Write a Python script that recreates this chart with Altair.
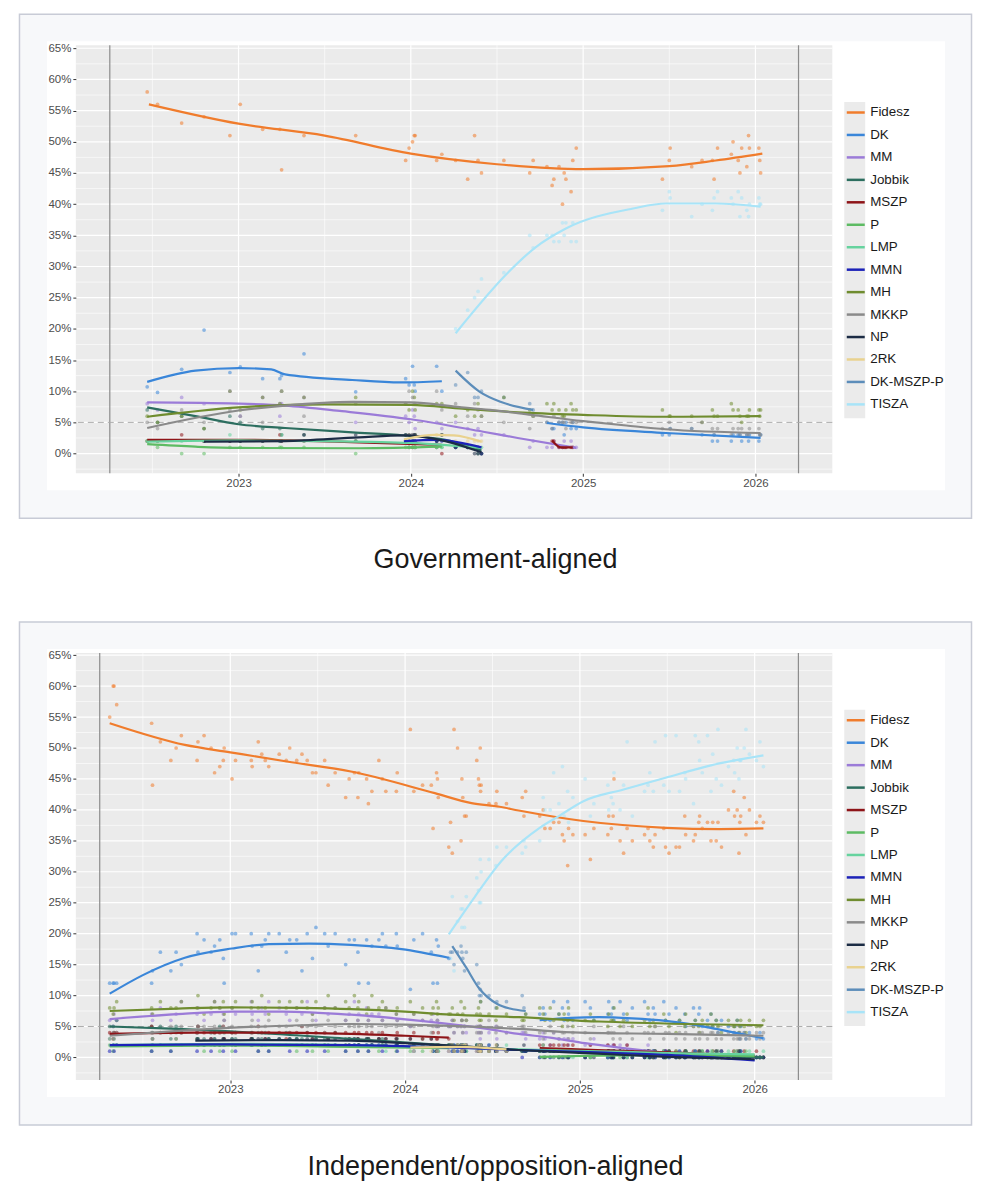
import altair as alt
import pandas as pd

PARTIES = ["Fidesz", "DK", "MM", "Jobbik", "MSZP", "P", "LMP", "MMN",
           "MH", "MKKP", "NP", "2RK", "DK-MSZP-P", "TISZA"]
COLORS = ["#f07c2c", "#3a86d9", "#9b7bd8", "#2c6e5f", "#8e1418", "#5dbb63",
          "#66d39e", "#1c22b8", "#6f8c2f", "#8a8a8a", "#1c2c45", "#e9d28f",
          "#5c8dba", "#a8e4f8"]

ELECTIONS = [2022.253, 2026.25]
THRESHOLD = [5]
X_MAJOR = [2023, 2024, 2025, 2026]
X_MINOR = [2022.5, 2023.5, 2024.5, 2025.5]
Y_MAJOR = [0, 5, 10, 15, 20, 25, 30, 35, 40, 45, 50, 55, 60, 65]
Y_MINOR = [-2.5, 2.5, 7.5, 12.5, 17.5, 22.5, 27.5, 32.5, 37.5, 42.5, 47.5, 52.5, 57.5, 62.5]

# ---------------- Government-aligned pollsters ----------------
G_DATES_S1 = [2022.47, 2022.53, 2022.67, 2022.80, 2022.95, 2023.01, 2023.14, 2023.24, 2023.25,
              2023.38, 2023.68, 2023.97, 2023.99, 2024.01, 2024.02, 2024.025, 2024.15, 2024.18]
G_DATES_S2 = [2024.26, 2024.33, 2024.37, 2024.39, 2024.41, 2024.54]
G_DATES_S3 = [2024.69, 2024.71, 2024.79, 2024.82, 2024.83, 2024.86, 2024.88, 2024.89, 2024.90,
              2024.93, 2024.94, 2024.96]
G_DATES_S4 = [2025.46, 2025.50, 2025.505, 2025.63, 2025.69, 2025.75, 2025.76, 2025.78, 2025.86,
              2025.87, 2025.90, 2025.91, 2025.92, 2025.95, 2025.96, 2025.965, 2026.02, 2026.025, 2026.03]

G_FIDESZ_S1 = [58, 56, 53, 54, 51, 56, 52, 52, 45.5, 51, 51, 47, 49, 50, 51, 51, 47, 48]
G_FIDESZ_S2 = [47, 44, 51, 47, 45, 47]
G_FIDESZ_S3 = [45, 47, 46, 43, 44, 46, 40, 45, 44, 42, 47, 49]
G_FIDESZ_S4 = [44, 47, 49, 46, 47, 47, 44, 49, 48, 50, 47, 45, 49, 46, 51, 49, 49, 47, 45]
G_TISZA_S2 = [20, 23, 25, 26, 28, 29]
G_TISZA_S3 = [35, 33, 35, 35, 34, 34, 37, 35, 37, 34, 37, 34]
G_TISZA_S4 = [39, 42, 41, 38, 40, 39, 41, 42, 41, 40, 42, 38, 41, 39, 38, 40, 41, 40, 40]
G_DK_S1 = [10.7, 9.8, 13.5, 19.8, 13, 13.9, 12, 12, 12.5, 16, 9.9, 12, 11, 14, 11, 10, 14, 10]
G_DK_S3 = [5, 4, 4, 5, 5, 3, 5, 4, 5, 4]
G_DK_S4 = [3, 3, 4, 4, 3, 2, 3, 2, 2, 3, 3, 3, 2, 3, 2, 3, 2, 3, 3]
G_DKMSZPP_S2 = [11, 13, 9, 9, 10, 9]
G_DKMSZPP_S3 = [8, 7]
G_MM_S1 = [8, 7, 9, 8, 10, 6, 9, 6, 8, 9, 5, 6, 5, 7, 6, 4, 5, 4]
G_MM_S2 = [5, 4, 3, 4, 3, 3]
G_MM_S3 = [1, 2, 1, 1, 2, 1, 1, 2, 1, 2, 1, 1]
G_JOBBIK_S1 = [7, 5, 6, 4, 6, 5, 4, 4, 3, 3, 2, 3, 2, 3, 2, 3, 2, 3]
G_JOBBIK_S2 = [1, 1, 1, 0, 0]
G_MSZP_S1 = [2, 2, 3, 2, 2, 2, 2, 3, 2, 2, 2, 2, 1, 1, 2, 1, 1, 0]
G_MSZP_S3 = [2, 2, 1, 1, 1, 1, 1, 1]
G_P_S1 = [2, 1, 0, 0, 1, 1, 1, 1, 1, 1, 0, 1, 1, 1, 1, 1, 1, 1]
G_LMP_S1 = [2, 2, 2, 2, 3, 2, 2, 2, 3, 2, 2, 2, 1, 2, 2, 1, 1, 1]
G_LMP_S2 = [1, 1, 1, 1, 1]
G_MMN_S1 = [2, 2, 3, 2, 2, 2, 2]
G_MMN_S2 = [1, 1, 1, 1, 0]
G_2RK_S1 = [2, 3, 3, 2, 3, 3, 3]
G_2RK_S2 = [2, 2, 2, 2, 2]
G_NP_S1 = [2, 2, 2, 2, 2, 2, 3, 3, 3, 3, 2, 3, 3, 2, 3]
G_NP_S2 = [1, 1, 0, 0, 0]
G_MH_S1 = [6, 5, 6, 4, 10, 7, 9, 8, 10, 9, 9, 8, 7, 10, 9, 7, 8, 8]
G_MH_S2 = [6, 7, 6, 8, 6, 9]
G_MH_S3 = [7, 6, 8, 7, 8, 7, 6, 6, 7, 8, 7, 7]
G_MH_S4 = [7, 6, 6, 6, 5, 7, 6, 6, 8, 7, 7, 6, 5, 6, 6, 7, 7, 6, 7]
G_MKKP_S1 = [5, 4, 7, 5, 7, 6, 5, 8, 10, 6, 8, 8, 10, 9, 8, 8, 10, 7]
G_MKKP_S2 = [8, 6, 8, 7, 6, 5]
G_MKKP_S3 = [4, 6, 5, 4, 6, 5, 5, 5, 4, 5, 5, 5]
G_MKKP_S4 = [4, 5, 4, 4, 5, 4, 3, 4, 3, 4, 4, 3, 4, 3, 3, 4, 4, 3, 3]

# smoothed trends (government-aligned)
GL_FIDESZ = [(2022.48, 56.0), (2023.0, 52.9), (2023.5, 51.0), (2024.0, 48.1), (2024.5, 46.4),
             (2025.0, 45.6), (2025.5, 46.1), (2025.77, 47.0), (2026.04, 48.1)]
GL_TISZA = [(2024.26, 19.3), (2024.57, 29.2), (2024.72, 33.0), (2024.9, 36.1), (2025.29, 39.3),
            (2025.48, 40.1), (2025.77, 40.1), (2026.03, 39.6)]
GL_DK1 = [(2022.47, 11.5), (2022.75, 13.3), (2023.0, 13.7), (2023.19, 13.5), (2023.27, 12.7),
          (2023.66, 11.8), (2023.94, 11.4), (2024.18, 11.6)]
GL_DK2 = [(2024.79, 4.9), (2025.0, 4.2), (2025.48, 3.3), (2026.03, 2.5)]
GL_DKMSZPP = [(2024.26, 13.3), (2024.40, 9.9), (2024.52, 8.3), (2024.71, 7.0)]
GL_MM = [(2022.47, 8.2), (2023.0, 8.0), (2023.27, 7.7), (2023.6, 6.8), (2024.0, 5.5),
         (2024.42, 3.5), (2024.62, 2.5), (2024.96, 0.9)]
GL_JOBBIK = [(2022.47, 7.4), (2022.75, 6.0), (2023.0, 4.7), (2023.27, 4.1), (2023.66, 3.4),
             (2023.96, 2.9), (2024.2, 2.2), (2024.41, 0.5)]
GL_MSZP1 = [(2022.47, 2.2), (2023.0, 2.2), (2023.3, 2.1), (2023.7, 1.8), (2024.18, 1.4)]
GL_MSZP2 = [(2024.82, 2.1), (2024.87, 1.0), (2024.94, 1.0)]
GL_P = [(2022.47, 1.5), (2022.75, 1.1), (2023.0, 0.9), (2023.7, 0.85), (2024.18, 1.1)]
GL_LMP = [(2022.47, 1.9), (2023.0, 2.1), (2023.5, 2.0), (2024.0, 1.7), (2024.41, 0.9)]
GL_MMN = [(2023.96, 2.0), (2024.15, 2.2), (2024.41, 1.0)]
GL_MH = [(2022.47, 5.9), (2023.0, 7.4), (2023.5, 7.9), (2024.0, 7.8), (2024.3, 7.2),
         (2024.62, 6.6), (2025.0, 6.2), (2025.48, 5.9), (2026.03, 6.0)]
GL_MKKP = [(2022.47, 4.1), (2023.0, 6.9), (2023.27, 7.7), (2023.66, 8.3), (2024.0, 8.2),
           (2024.27, 7.5), (2024.46, 7.0), (2024.7, 6.2), (2025.0, 5.2), (2025.25, 4.5),
           (2025.48, 3.9), (2026.03, 3.3)]
GL_NP = [(2022.80, 1.9), (2023.27, 2.0), (2023.7, 2.6), (2023.96, 2.9), (2024.2, 2.0), (2024.41, 0.2)]
GL_2RK = [(2023.96, 2.3), (2024.14, 3.0), (2024.25, 2.9), (2024.41, 1.9)]

# ---------------- Independent / opposition-aligned pollsters ----------------
I_DATES_A = [2022.31, 2022.33, 2022.335, 2022.35, 2022.55, 2022.555, 2022.60, 2022.66, 2022.69, 2022.72,
             2022.81, 2022.815, 2022.85, 2022.89, 2022.91, 2022.94, 2022.96, 2022.965, 2023.01, 2023.03,
             2023.12, 2023.125, 2023.16, 2023.18, 2023.20, 2023.22, 2023.28, 2023.32, 2023.34, 2023.38,
             2023.41, 2023.44, 2023.47, 2023.49, 2023.54, 2023.56, 2023.60, 2023.66, 2023.68, 2023.71,
             2023.73, 2023.735, 2023.78, 2023.79, 2023.81, 2023.85, 2023.87, 2023.89, 2023.95, 2023.955,
             2024.03, 2024.05, 2024.10, 2024.15, 2024.16, 2024.18, 2024.185, 2024.19, 2024.25]
I_DATES_B = [2024.26, 2024.27, 2024.28, 2024.30, 2024.32, 2024.325, 2024.33, 2024.34, 2024.35, 2024.41,
             2024.42, 2024.425, 2024.43, 2024.432, 2024.435, 2024.48, 2024.52, 2024.525, 2024.58, 2024.67,
             2024.69, 2024.68, 2024.77, 2024.79, 2024.80, 2024.83, 2024.85, 2024.88, 2024.90, 2024.91,
             2024.93, 2024.935, 2024.96, 2025.03, 2025.06, 2025.08, 2025.16, 2025.165, 2025.19, 2025.195,
             2025.18, 2025.23, 2025.25, 2025.27, 2025.30, 2025.37, 2025.39, 2025.40, 2025.42, 2025.43,
             2025.48, 2025.49, 2025.51, 2025.55, 2025.57, 2025.60, 2025.605, 2025.65, 2025.66, 2025.68,
             2025.685, 2025.70, 2025.73, 2025.75, 2025.76, 2025.78, 2025.79, 2025.81, 2025.85, 2025.88,
             2025.885, 2025.90, 2025.91, 2025.915, 2025.92, 2025.94, 2025.95, 2025.97, 2026.01, 2026.03,
             2026.05]

I_FIDESZ_A = [55, 60, 60, 57, 54, 44, 51, 48, 50, 52,
              48, 51, 52, 50, 46, 47, 48, 50, 45, 48,
              48, 47, 51, 49, 48, 47, 49, 48, 50, 48,
              49, 48, 46, 46, 48, 44, 46, 42, 45, 46,
              42, 46, 45, 41, 43, 48, 45, 43, 43, 46,
              53, 43, 44, 44, 37, 46, 45, 42, 34]
I_FIDESZ_B = [38, 33, 53, 50, 35, 45, 42, 39, 39, 48,
              45, 44, 50, 43, 44, 41, 41, 43, 41, 42,
              43, 39, 39, 40, 37, 37, 38, 38, 36, 35,
              31, 37, 36, 36, 32, 37, 36, 39, 39, 45,
              37, 35, 33, 37, 35, 36, 37, 35, 34, 36,
              37, 34, 33, 34, 34, 39, 36, 35, 36, 38,
              39, 37, 38, 35, 38, 35, 38, 34, 40, 43,
              39, 40, 33, 38, 39, 42, 36, 40, 38, 39,
              38]
I_TISZA_B = [16, 26, 14, 22, 24, 21, 24, 21, 26, 29,
             27, 25, 32, 25, 30, 32, 31, 34, 34, 33,
             34, 35, 35, 42, 40, 40, 46, 41, 47, 39,
             43, 38, 42, 45, 39, 41, 44, 40, 41, 46,
             42, 40, 44, 51, 39, 43, 44, 46, 43, 51,
             44, 52, 43, 52, 43, 46, 45, 41, 52, 51,
             48, 46, 52, 43, 49, 45, 53, 44, 47, 48,
             46, 50, 45, 48, 48, 50, 53, 49, 48, 51,
             47]
I_DK_A = [12, 12, 12, 12, 12, 14, 17, 14, 17, 15,
          20, 17, 19, 17, 18, 19, 16, 12, 20, 20,
          20, 18, 14, 18, 19, 20, 20, 17, 19, 19,
          14, 20, 16, 21, 20, 18, 20, 15, 19, 19,
          17, 12, 19, 12, 18, 19, 20, 18, 20, 18,
          11, 19, 20, 17, 12, 19, 12, 18, 16]
I_DK_B = [7, 8, 7, 6, 9, 7, 8, 6, 9, 7,
          6, 9, 8, 6, 7, 9, 8, 6, 7, 9,
          7, 6, 8, 9, 7, 6, 8, 7, 9, 6,
          7, 8, 6, 7, 5, 8, 6, 7, 8, 5,
          6, 7, 5, 6, 4, 6, 5, 4, 5, 6,
          4, 3, 5, 4, 3, 4, 3, 4, 3]
I_DKMSZPP_B = [17, 17, 15, 17, 18, 17, 16, 14, 17, 15,
               12, 10, 11, 9, 10, 10, 8, 9, 9, 10,
               7, 8]
I_MM_A = [6, 5, 7, 6, 7, 6, 8, 6, 7, 9,
          7, 8, 6, 7, 9, 8, 7, 6, 8, 7,
          9, 7, 6, 8, 7, 9, 8, 7, 6, 8,
          7, 9, 7, 6, 8, 7, 8, 6, 7, 9,
          6, 7, 8, 6, 7, 7, 6, 8, 7, 6,
          5, 7, 6, 6, 7, 5, 6, 5, 5]
I_MM_B = [5, 6, 4, 5, 5, 6, 4, 5, 4, 5,
          4, 5, 3, 5, 4, 4, 5, 3, 4, 4,
          3, 4, 3, 4, 3, 2, 4, 3, 2, 3,
          3, 2, 3, 2, 2, 3, 2, 1, 2, 2,
          1, 2, 1, 2, 1, 1, 2, 1, 1, 0,
          1, 1, 0]
I_JOBBIK_A = [5, 5, 4, 6, 5, 4, 5, 3, 5, 4,
              4, 5, 3, 4, 4, 5, 3, 4, 4, 3,
              4, 3, 4, 3, 4, 3, 3, 4, 3, 3,
              3, 4, 2, 3, 3, 3, 4, 3, 2, 3,
              3, 2, 3, 3, 2, 3, 3, 2, 2, 3,
              2, 2, 3, 2, 2, 1, 2, 2, 2]
I_JOBBIK_B = [2, 2, 1, 2, 2, 1, 2, 2, 1, 2,
              1, 2, 1, 1, 2, 1, 1, 2, 1, 1,
              1, 1, 1, 0, 1, 1, 0, 1, 1, 0,
              1, 0, 1, 1, 0, 1, 0, 1, 0, 1,
              0, 1, 0, 0, 1, 0, 1, 0, 0, 1,
              0, 0, 1, 0, 0, 0, 1, 0, 0, 0,
              0, 1, 0, 0, 0, 0, 1, 0, 0, 0,
              0, 0, 0, 1, 0, 0, 0, 0, 0, 0,
              0]
I_MSZP_A = [4, 3, 4, 4, 5, 3, 4, 4, 3, 4,
            4, 5, 4, 3, 4, 4, 5, 3, 4, 4,
            3, 4, 5, 4, 3, 4, 4, 3, 4, 4,
            5, 4, 3, 4, 4, 3, 4, 4, 3, 4,
            3, 4, 4, 3, 4, 3, 4, 3, 3, 4,
            3, 4, 3, 3, 4, 3, 3, 4, 3]
I_MSZP_B = [2, 2, 1, 2, 2, 2, 1, 2, 2, 1,
            2, 1, 2, 1, 2, 1, 1, 2, 1, 1,
            1, 2, 1, 1, 1, 1, 0, 1, 1, 1,
            1, 1, 0, 1, 1, 1, 0, 1, 1, 0,
            1, 0, 1, 1, 0, 1, 0, 1, 0, 1,
            0, 1, 0, 1, 0, 0, 1, 0, 0]
I_P_A = [2, 1, 2, 2, 1, 2, 2, 1, 2, 2,
         3, 2, 1, 2, 2, 1, 2, 2, 1, 2,
         2, 2, 1, 2, 2, 1, 2, 2, 2, 1,
         2, 2, 1, 2, 2, 1, 2, 1, 2, 2,
         1, 2, 2, 1, 2, 1, 2, 2, 1, 2,
         1, 2, 1, 2, 1, 2, 1, 1, 2]
I_P_B = [0, 1, 0, 0, 1, 0, 0, 1, 0, 0,
         1, 0, 0, 1, 0, 1, 0, 0, 1, 0,
         0, 1, 0, 1, 0, 0, 1, 0, 1, 0,
         0, 1, 0, 0, 1, 0, 1, 0, 0, 1,
         0, 0, 1, 0, 0, 1, 0, 0, 1, 0,
         0, 1, 0, 0, 1, 0, 0, 0, 0]
I_LMP_A = [3, 2, 3, 2, 2, 3, 2, 2, 3, 2,
           2, 3, 2, 2, 3, 2, 2, 2, 3, 2,
           2, 3, 2, 2, 2, 3, 2, 2, 2, 3,
           2, 2, 2, 3, 2, 2, 2, 2, 3, 2,
           2, 2, 2, 3, 2, 2, 2, 1, 2, 2,
           2, 1, 2, 2, 1, 2, 2, 1, 2]
I_LMP_B = [2, 1, 2, 1, 2, 2, 1, 2, 1, 2,
           1, 1, 2, 1, 1, 2, 1, 1, 2, 1,
           1, 1, 1, 2, 1, 1, 1, 0, 1, 1,
           1, 1, 0, 1, 1, 1, 0, 1, 1, 1,
           0, 1, 1, 0, 1, 1, 0, 1, 0, 1,
           1, 0, 1, 0, 1, 0, 1, 0, 1, 0,
           1, 0, 0, 1, 0, 1, 0, 0, 1, 0,
           0, 1, 0, 0, 1, 0, 0, 1, 0, 0,
           1]
I_MMN_A = [1, 2, 1, 2, 1, 2, 2, 1, 2, 2,
           1, 2, 2, 1, 2, 2, 1, 2, 2, 1,
           2, 2, 1, 2, 2, 1, 2, 2, 1, 2,
           2, 1, 2, 2, 1, 2, 2, 1, 2, 2,
           1, 2, 2, 1, 2, 2, 1, 2, 2, 1,
           2, 1, 2, 2, 1, 2, 1, 2, 1]
I_MMN_B = [2, 1, 2, 1, 1, 2, 1, 1, 2, 1,
           1, 2, 1, 1, 1, 2, 1, 1, 1, 0,
           1, 1, 0, 1, 1, 0, 1, 1, 0, 1,
           1, 0, 1, 0, 1, 1, 0, 1, 0, 1,
           0, 1, 0, 1, 0, 0, 1, 0, 1, 0,
           0, 1, 0, 0, 1, 0, 0, 0, 1, 0,
           0, 0, 1, 0, 0, 0, 0, 1, 0, 0,
           0, 0, 0, 0, 1, 0, 0, 0, 0, 0,
           0]
I_MH_A = [8, 7, 8, 9, 8, 7, 9, 8, 8, 9,
          8, 10, 7, 8, 9, 8, 9, 7, 8, 9,
          8, 9, 8, 10, 8, 7, 9, 8, 9, 8,
          9, 8, 7, 9, 8, 10, 8, 9, 8, 10,
          8, 9, 7, 8, 10, 8, 9, 8, 7, 8,
          9, 7, 8, 7, 8, 9, 7, 8, 7]
I_MH_B = [7, 8, 6, 7, 9, 6, 7, 8, 6, 7,
          8, 6, 7, 9, 6, 7, 6, 8, 7, 6,
          7, 6, 8, 7, 6, 8, 6, 7, 5, 7,
          6, 8, 5, 6, 7, 6, 5, 7, 6, 8,
          6, 5, 6, 7, 5, 6, 8, 5, 6, 5,
          7, 6, 5, 4, 6, 5, 7, 5, 6, 5,
          4, 6, 5, 7, 5, 6, 5, 4, 6, 5,
          5, 6, 4, 5, 6, 5, 4, 6, 5, 5,
          6]
I_MKKP_A = [3, 4, 3, 4, 4, 3, 4, 5, 4, 5,
            4, 5, 5, 4, 5, 4, 5, 6, 5, 4,
            5, 6, 5, 4, 5, 6, 5, 5, 4, 6,
            5, 5, 6, 5, 4, 6, 5, 6, 5, 5,
            6, 5, 5, 6, 5, 4, 6, 5, 5, 6,
            5, 5, 6, 4, 5, 5, 6, 5, 5]
I_MKKP_B = [5, 6, 4, 5, 5, 6, 4, 5, 6, 4,
            5, 4, 5, 5, 4, 6, 4, 5, 4, 5,
            4, 5, 4, 3, 4, 5, 4, 3, 4, 4,
            5, 3, 4, 4, 3, 5, 4, 4, 3, 4,
            4, 3, 5, 4, 3, 4, 4, 3, 4, 5,
            3, 4, 4, 3, 4, 3, 4, 5, 3, 4,
            3, 4, 3, 4, 4, 3, 4, 3, 4, 3,
            4, 3, 3, 4, 3, 4, 3, 3, 4, 3,
            4]
I_NP_A = [3, 3, 2, 3, 3, 2, 3, 3, 3, 2,
          3, 3, 3, 2, 3, 3, 3, 2, 3, 3,
          2, 3, 3, 3, 2, 3, 3, 2, 3, 3,
          3, 2, 3, 3, 2, 3, 2, 3, 3, 2,
          3, 2, 2, 3, 2, 1, 2, 2, 2]
I_NP_B = [2, 2, 1, 2, 2, 1, 2, 1, 2, 2,
          1, 2, 1, 1, 2, 1, 1, 2, 1, 1,
          1, 2, 1, 1, 0, 1, 1, 0, 1, 1,
          0, 1, 1, 0, 1, 0, 1, 1, 0, 1,
          0, 1, 0, 1, 0, 0, 1, 0, 0, 1,
          0, 0, 1, 0, 0, 0, 1, 0, 0, 0,
          1, 0, 0, 0, 0, 1, 0, 0, 0, 0,
          0, 0, 1, 0, 0, 0, 0, 0, 0, 0,
          0]
I_2RK = [2, 1, 2, 1, 2, 2, 1, 2, 1, 2,
         2, 1, 2, 1, 2, 1, 2, 2, 1, 2,
         1, 1, 2, 1, 1, 2, 1, 1]

# smoothed trends (independent / opposition-aligned)
IL_FIDESZ = [(2022.31, 54.0), (2022.74, 50.5), (2023.0, 49.3), (2023.35, 47.7), (2023.69, 46.2),
             (2024.17, 42.7), (2024.38, 41.1), (2024.54, 40.5), (2024.65, 39.9), (2025.02, 38.2),
             (2025.49, 37.1), (2025.8, 36.9), (2026.05, 37.0)]
IL_TISZA = [(2024.25, 19.9), (2024.4, 26.0), (2024.55, 31.7), (2024.77, 37.1), (2024.88, 39.0),
            (2025.02, 41.4), (2025.25, 43.3), (2025.49, 45.2), (2025.75, 47.2), (2026.05, 48.8)]
IL_DK1 = [(2022.31, 10.3), (2022.5, 13.3), (2022.74, 16.1), (2023.01, 17.6), (2023.22, 18.3),
          (2023.45, 18.4), (2023.69, 18.2), (2023.98, 17.5), (2024.25, 16.1)]
IL_DK2 = [(2024.77, 6.0), (2024.95, 6.4), (2025.11, 6.5), (2025.3, 6.3), (2025.49, 5.9),
          (2025.65, 5.3), (2025.78, 4.6), (2025.92, 3.8), (2026.05, 3.1)]
IL_DKMSZPP = [(2024.27, 18.0), (2024.35, 14.5), (2024.42, 11.3), (2024.53, 8.6), (2024.60, 7.9),
              (2024.69, 7.5)]
IL_MH = [(2022.31, 7.5), (2022.7, 7.9), (2023.01, 8.1), (2023.4, 8.0), (2023.69, 7.8), (2024.0, 7.4),
         (2024.26, 6.9), (2024.65, 6.5), (2025.11, 5.8), (2025.6, 5.4), (2026.05, 5.2)]
IL_MM = [(2022.31, 6.2), (2022.7, 7.0), (2023.01, 7.4), (2023.3, 7.4), (2023.69, 6.9), (2024.09, 5.9),
         (2024.47, 4.6), (2024.65, 3.8), (2024.83, 3.2), (2025.03, 2.3), (2025.25, 1.5), (2025.5, 0.7)]
IL_JOBBIK = [(2022.31, 5.0), (2022.7, 4.6), (2023.0, 4.2), (2023.69, 3.0), (2024.26, 1.9),
             (2024.65, 1.2), (2025.1, 0.8), (2025.5, 0.5), (2026.05, 0.0)]
IL_MKKP = [(2022.31, 3.5), (2022.7, 4.3), (2023.01, 4.8), (2023.4, 5.2), (2023.69, 5.4), (2024.0, 5.3),
           (2024.26, 5.1), (2024.65, 4.6), (2025.0, 4.0), (2025.5, 3.8), (2026.05, 3.5)]
IL_MSZP1 = [(2022.31, 3.8), (2022.8, 4.0), (2023.1, 4.0), (2023.69, 3.8), (2024.0, 3.5), (2024.25, 3.2)]
IL_MSZP2 = [(2024.77, 1.5), (2025.1, 1.2), (2025.5, 0.8), (2025.8, 0.5), (2026.0, 0.3)]
IL_NP = [(2022.80, 2.7), (2023.3, 2.8), (2023.69, 2.7), (2024.0, 2.3), (2024.26, 1.9), (2024.65, 1.2),
         (2025.1, 0.6), (2025.5, 0.1), (2026.0, -0.3)]
IL_MMN = [(2022.31, 2.0), (2023.0, 2.1), (2023.69, 2.0), (2024.26, 1.6), (2024.65, 1.2), (2025.1, 0.8),
          (2025.5, 0.4), (2026.0, -0.5)]
IL_P1 = [(2022.31, 1.8), (2023.0, 1.9), (2023.69, 1.7), (2024.25, 1.5)]
IL_P2 = [(2024.77, 0.1), (2025.1, 0.3), (2025.5, 0.4), (2026.0, 0.2)]
IL_LMP = [(2022.31, 2.0), (2023.0, 2.2), (2023.69, 2.0), (2024.26, 1.6), (2024.65, 1.3), (2025.1, 1.0),
          (2025.5, 0.7), (2026.0, 0.5)]
IL_2RK = [(2024.03, 1.6), (2024.3, 1.7), (2024.58, 1.3)]


def add_pts(rows, party, dates, values):
    for d, v in zip(dates, values):
        rows.append({"year": d, "value": v, "party": party})


def add_line(rows, party, seg, pairs):
    for d, v in pairs:
        rows.append({"year": d, "value": v, "party": party, "seg": party + seg})


# government points
gp = []
add_pts(gp, "Fidesz", G_DATES_S1, G_FIDESZ_S1)
add_pts(gp, "Fidesz", G_DATES_S2, G_FIDESZ_S2)
add_pts(gp, "Fidesz", G_DATES_S3, G_FIDESZ_S3)
add_pts(gp, "Fidesz", G_DATES_S4, G_FIDESZ_S4)
add_pts(gp, "TISZA", G_DATES_S2, G_TISZA_S2)
add_pts(gp, "TISZA", G_DATES_S3, G_TISZA_S3)
add_pts(gp, "TISZA", G_DATES_S4, G_TISZA_S4)
add_pts(gp, "DK", G_DATES_S1, G_DK_S1)
add_pts(gp, "DK", G_DATES_S3[2:], G_DK_S3)
add_pts(gp, "DK", G_DATES_S4, G_DK_S4)
add_pts(gp, "DK-MSZP-P", G_DATES_S2, G_DKMSZPP_S2)
add_pts(gp, "DK-MSZP-P", G_DATES_S3, G_DKMSZPP_S3)
add_pts(gp, "MM", G_DATES_S1, G_MM_S1)
add_pts(gp, "MM", G_DATES_S2, G_MM_S2)
add_pts(gp, "MM", G_DATES_S3, G_MM_S3)
add_pts(gp, "Jobbik", G_DATES_S1, G_JOBBIK_S1)
add_pts(gp, "Jobbik", G_DATES_S2, G_JOBBIK_S2)
add_pts(gp, "MSZP", G_DATES_S1, G_MSZP_S1)
add_pts(gp, "MSZP", G_DATES_S3[3:], G_MSZP_S3)
add_pts(gp, "P", G_DATES_S1, G_P_S1)
add_pts(gp, "LMP", G_DATES_S1, G_LMP_S1)
add_pts(gp, "LMP", G_DATES_S2, G_LMP_S2)
add_pts(gp, "MMN", G_DATES_S1[11:], G_MMN_S1)
add_pts(gp, "MMN", G_DATES_S2, G_MMN_S2)
add_pts(gp, "2RK", G_DATES_S1[11:], G_2RK_S1)
add_pts(gp, "2RK", G_DATES_S2, G_2RK_S2)
add_pts(gp, "NP", G_DATES_S1[3:], G_NP_S1)
add_pts(gp, "NP", G_DATES_S2, G_NP_S2)
add_pts(gp, "MH", G_DATES_S1, G_MH_S1)
add_pts(gp, "MH", G_DATES_S2, G_MH_S2)
add_pts(gp, "MH", G_DATES_S3, G_MH_S3)
add_pts(gp, "MH", G_DATES_S4, G_MH_S4)
add_pts(gp, "MKKP", G_DATES_S1, G_MKKP_S1)
add_pts(gp, "MKKP", G_DATES_S2, G_MKKP_S2)
add_pts(gp, "MKKP", G_DATES_S3, G_MKKP_S3)
add_pts(gp, "MKKP", G_DATES_S4, G_MKKP_S4)

gl = []
add_line(gl, "Fidesz", "1", GL_FIDESZ)
add_line(gl, "DK", "1", GL_DK1)
add_line(gl, "DK", "2", GL_DK2)
add_line(gl, "MM", "1", GL_MM)
add_line(gl, "Jobbik", "1", GL_JOBBIK)
add_line(gl, "MSZP", "1", GL_MSZP1)
add_line(gl, "MSZP", "2", GL_MSZP2)
add_line(gl, "P", "1", GL_P)
add_line(gl, "LMP", "1", GL_LMP)
add_line(gl, "MMN", "1", GL_MMN)
add_line(gl, "MH", "1", GL_MH)
add_line(gl, "MKKP", "1", GL_MKKP)
add_line(gl, "NP", "1", GL_NP)
add_line(gl, "2RK", "1", GL_2RK)
add_line(gl, "DK-MSZP-P", "1", GL_DKMSZPP)
add_line(gl, "TISZA", "1", GL_TISZA)

# independent points
ip = []
add_pts(ip, "Fidesz", I_DATES_A, I_FIDESZ_A)
add_pts(ip, "Fidesz", I_DATES_B, I_FIDESZ_B)
add_pts(ip, "TISZA", I_DATES_B, I_TISZA_B)
add_pts(ip, "DK", I_DATES_A, I_DK_A)
add_pts(ip, "DK", I_DATES_B[22:], I_DK_B)
add_pts(ip, "DK-MSZP-P", I_DATES_B, I_DKMSZPP_B)
add_pts(ip, "MM", I_DATES_A, I_MM_A)
add_pts(ip, "MM", I_DATES_B, I_MM_B)
add_pts(ip, "Jobbik", I_DATES_A, I_JOBBIK_A)
add_pts(ip, "Jobbik", I_DATES_B, I_JOBBIK_B)
add_pts(ip, "MSZP", I_DATES_A, I_MSZP_A)
add_pts(ip, "MSZP", I_DATES_B[22:], I_MSZP_B)
add_pts(ip, "P", I_DATES_A, I_P_A)
add_pts(ip, "P", I_DATES_B[22:], I_P_B)
add_pts(ip, "LMP", I_DATES_A, I_LMP_A)
add_pts(ip, "LMP", I_DATES_B, I_LMP_B)
add_pts(ip, "MMN", I_DATES_A, I_MMN_A)
add_pts(ip, "MMN", I_DATES_B, I_MMN_B)
add_pts(ip, "MH", I_DATES_A, I_MH_A)
add_pts(ip, "MH", I_DATES_B, I_MH_B)
add_pts(ip, "MKKP", I_DATES_A, I_MKKP_A)
add_pts(ip, "MKKP", I_DATES_B, I_MKKP_B)
add_pts(ip, "NP", I_DATES_A[10:], I_NP_A)
add_pts(ip, "NP", I_DATES_B, I_NP_B)
add_pts(ip, "2RK", I_DATES_A[50:] + I_DATES_B, I_2RK)

il = []
add_line(il, "Fidesz", "1", IL_FIDESZ)
add_line(il, "DK", "1", IL_DK1)
add_line(il, "DK", "2", IL_DK2)
add_line(il, "MM", "1", IL_MM)
add_line(il, "Jobbik", "1", IL_JOBBIK)
add_line(il, "MSZP", "1", IL_MSZP1)
add_line(il, "MSZP", "2", IL_MSZP2)
add_line(il, "P", "1", IL_P1)
add_line(il, "P", "2", IL_P2)
add_line(il, "LMP", "1", IL_LMP)
add_line(il, "MMN", "1", IL_MMN)
add_line(il, "MH", "1", IL_MH)
add_line(il, "MKKP", "1", IL_MKKP)
add_line(il, "NP", "1", IL_NP)
add_line(il, "2RK", "1", IL_2RK)
add_line(il, "DK-MSZP-P", "1", IL_DKMSZPP)
add_line(il, "TISZA", "1", IL_TISZA)

FONT = "Liberation Sans"
W = 758


def rect(x1, x2, y1, y2, fill, stroke=None, sw=0):
    kw = {"fill": fill}
    if stroke:
        kw["stroke"] = stroke
        kw["strokeWidth"] = sw
    return alt.Chart(alt.Data(values=[{}])).mark_rect(**kw).encode(
        x=alt.value(x1), x2=alt.value(x2), y=alt.value(y1), y2=alt.value(y2))


def panel(points, lines, xdom, ydom, H, title):
    xs = alt.Scale(domain=xdom, nice=False, zero=False)
    ys = alt.Scale(domain=ydom, nice=False, zero=False)
    xax = alt.Axis(values=X_MAJOR, format="d", grid=False, domain=False, tickSize=3,
                   tickColor="#333333", labelFontSize=11.5, labelColor="#4d4d4d",
                   labelFont=FONT, labelPadding=1, zindex=1, title=None)
    yax = alt.Axis(values=Y_MAJOR, labelExpr="datum.value + '%'", grid=False, domain=False,
                   tickSize=3, tickColor="#333333", labelFontSize=11.5, labelColor="#4d4d4d",
                   labelFont=FONT, labelPadding=2, zindex=1, title=None)

    def X(f="year"):
        return alt.X(f + ":Q", scale=xs, axis=xax)

    def Y(f="value"):
        return alt.Y(f + ":Q", scale=ys, axis=yax)

    legend = alt.Legend(orient="none", legendX=771, legendY=57, title=None,
                        symbolType="stroke", symbolSize=324, symbolStrokeWidth=2.5,
                        rowPadding=5.5, labelOffset=4, labelFontSize=13.4,
                        labelFont=FONT, labelColor="#1a1a1a", padding=0,
                        symbolOpacity=1)
    cscale = alt.Scale(domain=PARTIES, range=COLORS)

    outer = rect(-56.5, 897.5, -31, H + 45, "#f7f8fa", "#c8cbd6", 1.5)
    white = rect(-29, 871, -4, H + 17, "#ffffff")
    gray = rect(0, W, 0, H, "#ebebeb")
    legbg = rect(770, 791, 57, 374, "#ebebeb")

    xmin = alt.Chart(pd.DataFrame({"year": X_MINOR})).mark_rule(color="white", strokeWidth=0.6).encode(x=X())
    xmaj = alt.Chart(pd.DataFrame({"year": X_MAJOR})).mark_rule(color="white", strokeWidth=1.2).encode(x=X())
    ymin = alt.Chart(pd.DataFrame({"value": Y_MINOR})).mark_rule(color="white", strokeWidth=0.6).encode(y=Y())
    ymaj = alt.Chart(pd.DataFrame({"value": Y_MAJOR})).mark_rule(color="white", strokeWidth=1.2).encode(y=Y())
    elec = alt.Chart(pd.DataFrame({"year": ELECTIONS})).mark_rule(color="#8c8c8c", strokeWidth=1.2).encode(x=X())
    thr = alt.Chart(pd.DataFrame({"value": THRESHOLD})).mark_rule(
        color="#ababab", strokeWidth=1, strokeDash=[6, 4]).encode(y=Y())

    pts = alt.Chart(pd.DataFrame(points)).mark_circle(size=14, opacity=0.55).encode(
        x=X(), y=Y(),
        fill=alt.Fill("party:N", scale=cscale, legend=legend))
    lns = alt.Chart(pd.DataFrame(lines)).mark_line(strokeWidth=2.2, interpolate="monotone").encode(
        x=X(), y=Y(),
        stroke=alt.Stroke("party:N", scale=cscale, legend=legend),
        detail="seg:N")

    return alt.layer(outer, white, gray, legbg, xmin, xmaj, ymin, ymaj, elec, thr, pts, lns).properties(
        width=W, height=H,
        title=alt.TitleParams(text=title, orient="bottom", anchor="middle", frame="bounds",
                              fontSize=27, fontWeight="normal", font=FONT, color="#1a1a1a",
                              offset=28))


top = panel(gp, gl, [2022.056, 2026.446], [-3.16, 65.5], 429, "Government-aligned")
bottom = panel(ip, il, [2022.1165, 2026.444], [-3.65, 65.37], 428, "Independent/opposition-aligned")

chart = alt.vconcat(top, bottom, spacing=48).resolve_scale(
    x="independent", y="independent", fill="independent", stroke="independent"
).resolve_legend(fill="independent", stroke="independent").properties(
    padding={"left": 10, "top": 4, "right": 5, "bottom": 5}
).configure_view(stroke=None)

chart.save("out.html", embed_options={"renderer": "svg", "actions": False})
